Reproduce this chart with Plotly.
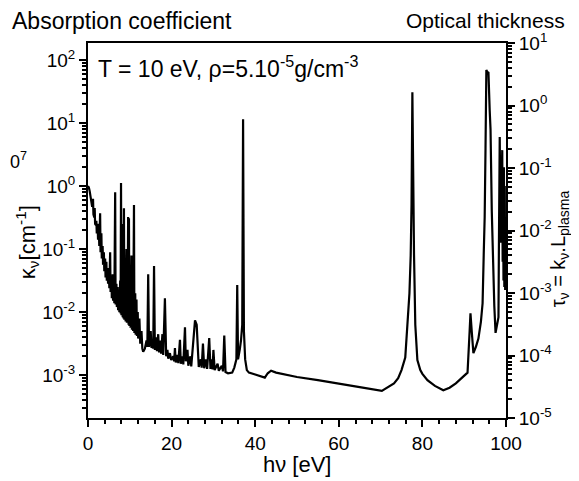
import numpy as np
import plotly.graph_objects as go

# photon energy [eV]
hv = [
    0.0, 0.2, 0.4, 0.6, 0.8, 1.0, 1.2, 1.3, 1.5, 1.6, 1.7, 1.9, 2.0, 2.1, 2.3, 2.4, 2.6, 2.7, 2.9, 3.0,
    3.2, 3.3, 3.5, 3.6, 3.8, 3.9, 4.1, 4.2, 4.4, 4.5, 4.7, 4.8, 5.0, 5.1, 5.3, 5.4, 5.6, 5.7, 5.9, 6.0,
    6.2, 6.3, 6.5, 6.6, 6.8, 6.9, 7.1, 7.2, 7.4, 7.5, 7.7, 7.8, 7.9, 8.0, 8.2, 8.3, 8.4, 8.5, 8.6, 8.7,
    8.9, 9.0, 9.2, 9.3, 9.5, 9.6, 9.7, 9.8, 9.9, 10.1, 10.2, 10.4, 10.5, 10.7, 10.8, 11.0, 11.1, 11.3, 11.4, 11.6,
    11.7, 11.9, 12.0, 12.3, 12.5, 12.8, 13.0, 13.2, 13.6, 14.0, 14.2, 14.4, 14.6, 15.0, 15.2, 15.5, 15.6, 15.8, 16.0, 16.3,
    16.5, 16.8, 17.0, 17.3, 17.5, 17.8, 18.0, 18.4, 18.7, 19.0, 19.2, 19.6, 19.9, 20.4, 20.6, 20.8, 21.0, 21.4, 21.6, 22.0,
    22.2, 22.6, 22.8, 23.2, 23.4, 23.8, 24.0, 24.5, 24.7, 25.1, 25.3, 25.6, 26.0, 26.3, 26.5, 27.0, 27.2, 27.5, 27.8, 28.2,
    28.5, 29.0, 29.3, 29.6, 29.8, 30.0, 30.3, 31.0, 31.3, 32.0, 32.3, 32.6, 32.9, 33.5, 34.5, 35.0, 35.5, 35.7, 35.9, 36.3,
    36.6, 36.9, 37.1, 37.3, 37.6, 38.0, 38.5, 40.0, 42.3, 43.0, 43.8, 45.0, 50.0, 55.0, 60.0, 65.0, 70.3, 71.0, 72.0, 73.2,
    74.2, 75.0, 75.9, 76.4, 76.9, 77.2, 77.4, 77.6, 77.8, 78.0, 78.3, 78.8, 79.5, 80.0, 81.2, 83.0, 85.0, 86.5, 88.0, 89.5,
    90.8, 91.3, 91.5, 91.8, 92.2, 92.8, 93.4, 94.0, 94.4, 94.7, 94.9, 95.1, 95.3, 95.6, 95.8, 96.1, 96.3, 96.6, 96.8, 97.2,
    97.5, 97.8, 98.2, 98.3, 98.5, 98.7, 98.9, 99.1, 99.2, 99.3, 99.4, 99.5, 99.6, 99.7, 99.8, 99.9, 100.0,
]

# absorption coefficient, log10(kappa / cm^-1)
log10_kappa = [
    0.0, -0.02, -0.08, -0.15, -0.25, -0.33, -0.2, -0.45, -0.5, -0.35, -0.6, -0.62, -0.55, -0.75, -0.6, -0.85, -0.7, -0.95, -0.43, -1.05,
    -0.75, -1.15, -0.95, -1.25, -1.05, -1.35, -1.15, -1.45, -1.2, -1.5, -1.3, -1.55, -1.35, -1.62, -1.05, -1.68, -1.45, -1.78, -1.4, -1.82,
    -1.6, -1.86, -0.1, -1.88, -1.55, -1.92, -1.6, -1.97, -1.7, -2.0, -1.5, -2.02, 0.05, -2.05, -1.6, -2.08, -0.6, -2.1, -0.35, -2.12,
    -1.4, -2.15, -1.0, -2.17, -1.6, -0.49, -2.2, -0.51, -2.22, -1.3, -2.25, -1.1, -2.28, -1.6, -2.3, -0.3, -2.33, -1.7, -2.36, -1.8,
    -2.38, -2.0, -2.42, -2.1, -2.5, -2.3, -2.58, -2.63, -2.58, -2.45, -2.55, -1.4, -2.55, -2.3, -2.57, -2.45, -2.58, -1.27, -2.6, -2.4,
    -2.62, -2.35, -2.64, -2.45, -2.66, -2.35, -2.68, -1.78, -2.7, -2.6, -2.74, -2.65, -2.76, -2.7, -2.78, -2.57, -2.8, -2.68, -2.81, -2.44,
    -2.82, -2.7, -2.83, -2.24, -2.78, -2.6, -2.85, -2.7, -2.86, -2.5, -2.3, -2.13, -2.2, -2.6, -2.87, -2.75, -2.88, -2.5, -2.89, -2.75,
    -2.9, -2.41, -2.9, -2.75, -2.91, -2.6, -2.92, -2.82, -2.93, -2.85, -2.94, -2.37, -2.95, -2.97, -2.96, -2.88, -2.75, -1.57, -2.75, -2.6,
    -2.45, -2.2, 1.06, -2.3, -2.75, -2.92, -2.96, -2.99, -3.04, -2.97, -2.93, -2.96, -3.03, -3.08, -3.13, -3.19, -3.25, -3.22, -3.18, -3.13,
    -3.05, -2.92, -2.72, -2.2, -1.7, -1.1, -0.3, 1.49, -0.3, -1.1, -2.2, -2.76, -2.92, -2.98, -3.08, -3.17, -3.24, -3.2, -3.13, -3.04,
    -2.96, -2.3, -2.02, -2.3, -2.65, -2.55, -2.42, -2.15, -1.86, -1.0, -0.49, 0.6, 1.84, 1.8, 1.81, 1.2, 0.9, -0.4, -1.02, -1.9,
    -2.33, -2.2, -2.08, -1.0, 0.78, -0.9, -0.2, 0.57, -1.2, 0.2, -1.5, 0.3, -1.6, 0.0, -1.65, -0.5, -1.3,
]

x_ticks = [0, 20, 40, 60, 80, 100]
left_exps = [-3, -2, -1, 0, 1, 2]
right_exps = [-5, -4, -3, -2, -1, 0, 1]

kappa = np.power(10.0, np.array(log10_kappa))

FONT = "Liberation Sans, Arial, Helvetica, sans-serif"


def minor_vals(lo, hi):
    return [m * 10.0 ** e for e in range(lo, hi) for m in range(2, 10)]


fig = go.Figure()
fig.add_trace(go.Scatter(x=hv, y=kappa, mode="lines",
                         line=dict(color="black", width=2.2), showlegend=False,
                         hoverinfo="skip"))
fig.add_trace(go.Scatter(x=[None], y=[None], yaxis="y2", showlegend=False))

axis_common = dict(showgrid=False, zeroline=False, showline=True, linecolor="black",
                   linewidth=2, ticks="outside", tickcolor="black", tickwidth=2,
                   tickfont=dict(family=FONT, size=19, color="black"))

# page body has an 8 px default margin, so the figure is 8 px smaller
fig.update_layout(
    width=571, height=473,
    margin=dict(l=80, r=73, t=35, b=63, autoexpand=False),
    paper_bgcolor="white", plot_bgcolor="white",
    font=dict(family=FONT, color="black"),
    xaxis=dict(range=[0, 100], tickvals=x_ticks, ticklen=7, mirror=True,
               minor=dict(dtick=4, ticks="outside", ticklen=4, tickcolor="black", tickwidth=1.5),
               **axis_common),
    yaxis=dict(type="log", range=[-3.68, 2.27], ticklen=7, mirror=True,
               tickvals=[10.0 ** e for e in left_exps],
               ticktext=[f"10<sup>{e}</sup>" for e in left_exps],
               minor=dict(tickvals=minor_vals(-4, 3), ticks="outside", ticklen=4,
                          tickcolor="black", tickwidth=1.5),
               **axis_common),
    yaxis2=dict(type="log", range=[-5, 1], overlaying="y", side="right", ticklen=7,
                tickvals=[10.0 ** e for e in right_exps],
                ticktext=[f"10<sup>{e}</sup>" for e in right_exps],
                minor=dict(tickvals=minor_vals(-5, 1), ticks="outside", ticklen=4,
                           tickcolor="black", tickwidth=1.5),
                **axis_common),
)

# positions in paper units of the 418 x 375 plot area
ann = [
    dict(text="Absorption coefficient", x=-0.187, y=1.058, xanchor="left", yanchor="middle", size=23, angle=0),
    dict(text="Optical thickness", x=1.146, y=1.061, xanchor="right", yanchor="middle", size=21, angle=0),
    dict(text="T = 10 eV, ρ=5.10<sup>-5</sup>g/cm<sup>-3</sup>", x=0.02, y=0.935, xanchor="left", yanchor="middle", size=23, angle=0),
    dict(text="hν [eV]", x=0.5, y=-0.125, xanchor="center", yanchor="middle", size=22, angle=0),
    dict(text="κ<sub>ν</sub>[cm<sup>-1</sup>]", x=-0.145, y=0.47, xanchor="center", yanchor="middle", size=22, angle=-90),
    dict(text="τ<sub>ν</sub> = k<sub>ν</sub>.L<sub>plasma</sub>", x=1.127, y=0.45, xanchor="center", yanchor="middle", size=20, angle=-90),
    dict(text="0<sup>7</sup>", x=-0.191, y=0.688, xanchor="left", yanchor="middle", size=18, angle=0),
]
for a in ann:
    fig.add_annotation(text=a["text"], x=a["x"], y=a["y"], xref="paper", yref="paper",
                       xanchor=a["xanchor"], yanchor=a["yanchor"], showarrow=False,
                       textangle=a["angle"], font=dict(family=FONT, size=a["size"], color="black"))

fig.write_html("out.html")
